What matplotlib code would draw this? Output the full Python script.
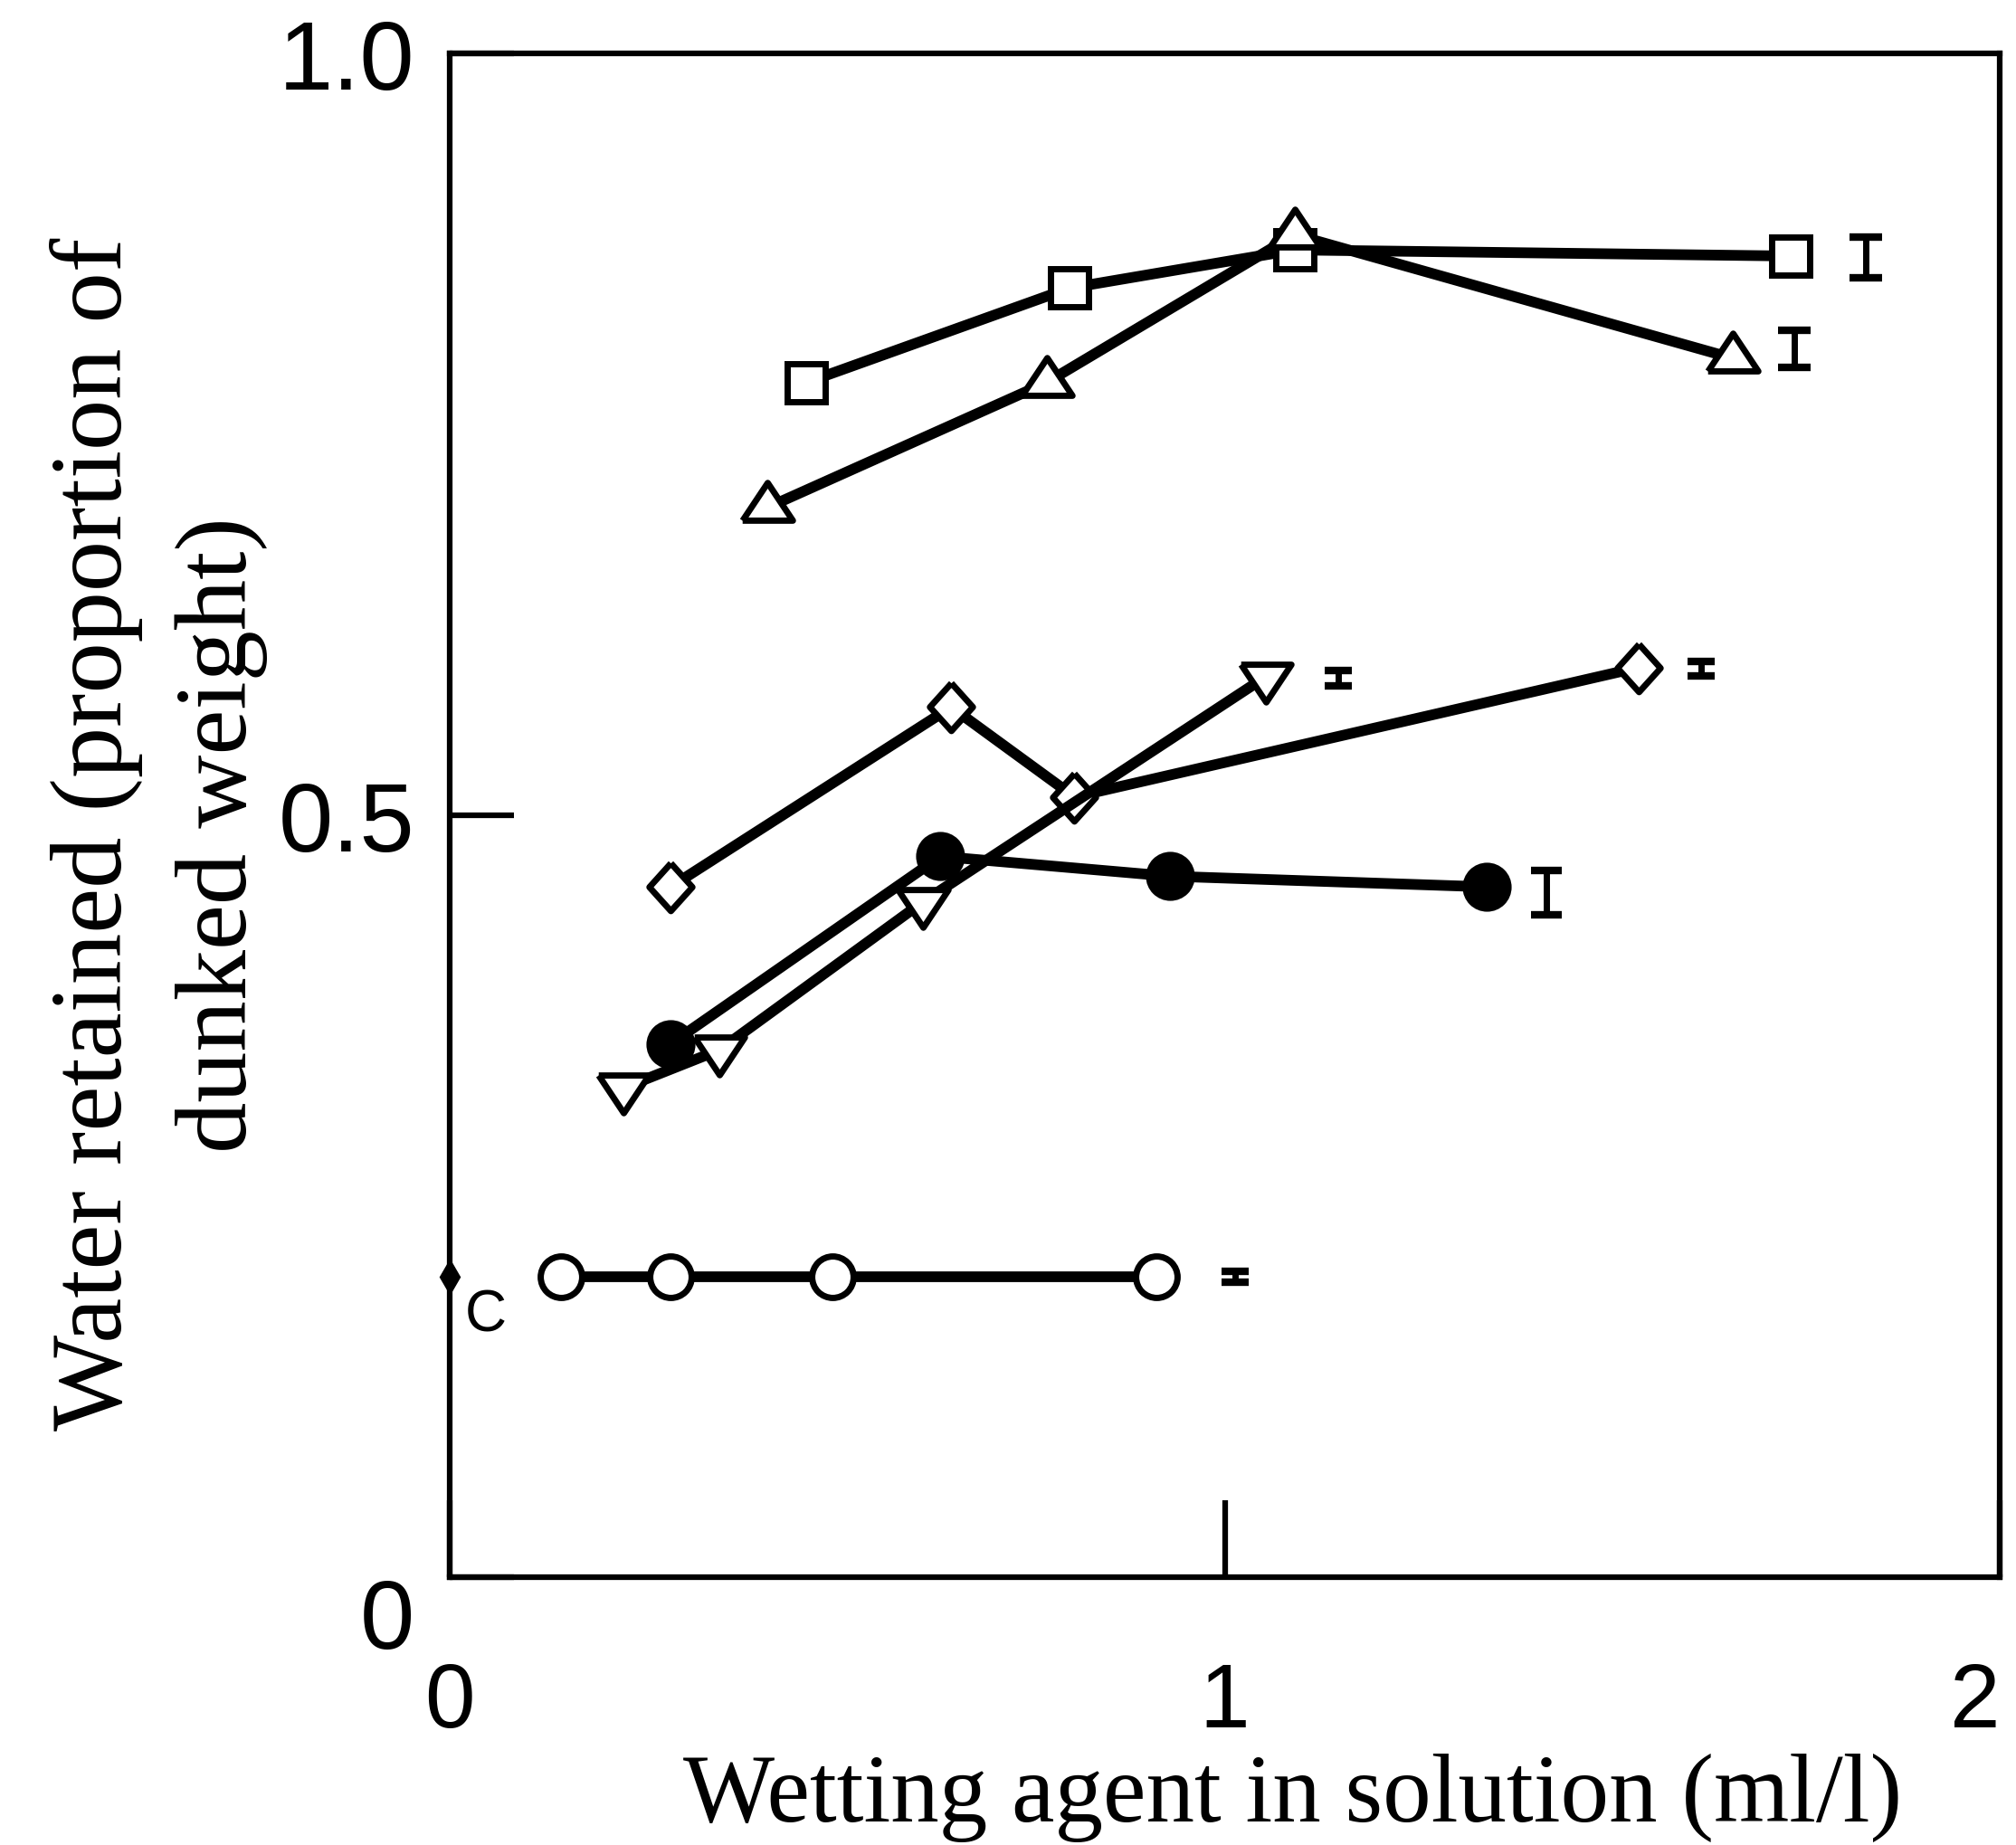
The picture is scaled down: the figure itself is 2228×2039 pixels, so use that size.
import numpy as np
import matplotlib
matplotlib.use("Agg")
from matplotlib import pyplot as plt

# data
sq_x = [0.46, 0.80, 1.09, 1.73]
sq_y = [0.784, 0.846, 0.871, 0.867]
tu_x = [0.41, 0.77, 1.09, 1.655]
tu_y = [0.702, 0.784, 0.881, 0.800]
dm_x = [0.285, 0.647, 0.806, 1.534]
dm_y = [0.453, 0.571, 0.512, 0.597]
td_x = [0.224, 0.348, 0.610, 1.053]
td_y = [0.321, 0.346, 0.443, 0.591]
fc_x = [0.285, 0.633, 0.929, 1.338]
fc_y = [0.350, 0.473, 0.460, 0.453]
oc_x = [0.144, 0.285, 0.494, 0.912]
oc_y = [0.197, 0.197, 0.197, 0.197]
ctrl_x = [0.0]
ctrl_y = [0.197]

# standard error bars drawn beside each series: x, y, half length
err_x = [1.827, 1.735, 1.614, 1.146, 1.415, 1.013]
err_y = [0.866, 0.806, 0.596, 0.590, 0.449, 0.197]
err_h = [0.0134, 0.0122, 0.0048, 0.0050, 0.0145, 0.0036]
err_cap = [13, 13, 11, 11, 12, 11]

xticks = [0, 1, 2]
xticklabels = ["0", "1", "2"]
yticks = [0, 0.5, 1.0]
yticklabels = ["0", "0.5", "1.0"]

sans = ["Liberation Sans", "DejaVu Sans"]
serif = ["Liberation Serif", "DejaVu Serif"]

tri_up = [(-1, -0.5), (1, -0.5), (0, 1.0), (-1, -0.5)]
tri_dn = [(-1, 0.5), (1, 0.5), (0, -1.0), (-1, 0.5)]
diamond = [(0, 1), (0.9, 0), (0, -1), (-0.9, 0), (0, 1)]

fig = plt.figure(figsize=(22.28, 20.40), dpi=100)
ax = fig.add_axes([0.2231, 0.1451, 0.7689, 0.8255])

lw = 8.5
mew = 5
ax.plot(sq_x, sq_y, color="black", lw=lw, marker="s", ms=30, mfc="white", mec="black", mew=mew, zorder=3)
ax.plot(tu_x, tu_y, color="black", lw=lw, marker=tri_up, ms=40, mfc="white", mec="black", mew=mew, zorder=3)
ax.plot(dm_x, dm_y, color="black", lw=lw, marker=diamond, ms=38, mfc="white", mec="black", mew=mew, zorder=3)
ax.plot(td_x, td_y, color="black", lw=lw, marker=tri_dn, ms=40, mfc="white", mec="black", mew=mew, zorder=3)
ax.plot(fc_x, fc_y, color="black", lw=lw, marker="o", ms=36, mfc="black", mec="black", mew=3, zorder=3)
ax.plot(oc_x, oc_y, color="black", lw=lw, marker="o", ms=33, mfc="white", mec="black", mew=mew, zorder=3)
ax.plot(ctrl_x, ctrl_y, ls="none", marker="d", ms=19, color="black", clip_on=False, zorder=4)
ax.text(0.046, 0.172, "C", fontsize=46, family=sans, ha="center", va="center")

for x, y, h, c in zip(err_x, err_y, err_h, err_cap):
    ax.errorbar([x], [y], yerr=[h], fmt="none", ecolor="black", elinewidth=5,
                capsize=c, capthick=6)

ax.set_xlim(0, 2)
ax.set_ylim(0, 1.0)
for s in ax.spines.values():
    s.set_linewidth(4.5)

ax.set_xticks(xticks)
ax.set_xticklabels(xticklabels, fontsize=72, family=sans)
ax.set_yticks(yticks)
ax.set_yticklabels(yticklabels, fontsize=78, family=sans)
ax.tick_params(axis="x", direction="in", length=61, width=4.5, pad=66)
ax.tick_params(axis="y", direction="in", length=51, width=4.5, pad=28)
ax.get_yticklabels()[0].set_va("top")
ax.get_xticklabels()[-1].set_ha("right")

fig.text(0.641, 0.0135, "Wetting agent in solution (ml/l)", fontsize=77, family=serif,
         ha="center", va="baseline")
fig.text(0.060, 0.548, "Water retained (proportion of", fontsize=81, family=serif,
         rotation=90, rotation_mode="anchor", ha="center", va="baseline")
fig.text(0.122, 0.548, "dunked weight)", fontsize=81, family=serif,
         rotation=90, rotation_mode="anchor", ha="center", va="baseline")

fig.savefig("out.png", dpi=100)
